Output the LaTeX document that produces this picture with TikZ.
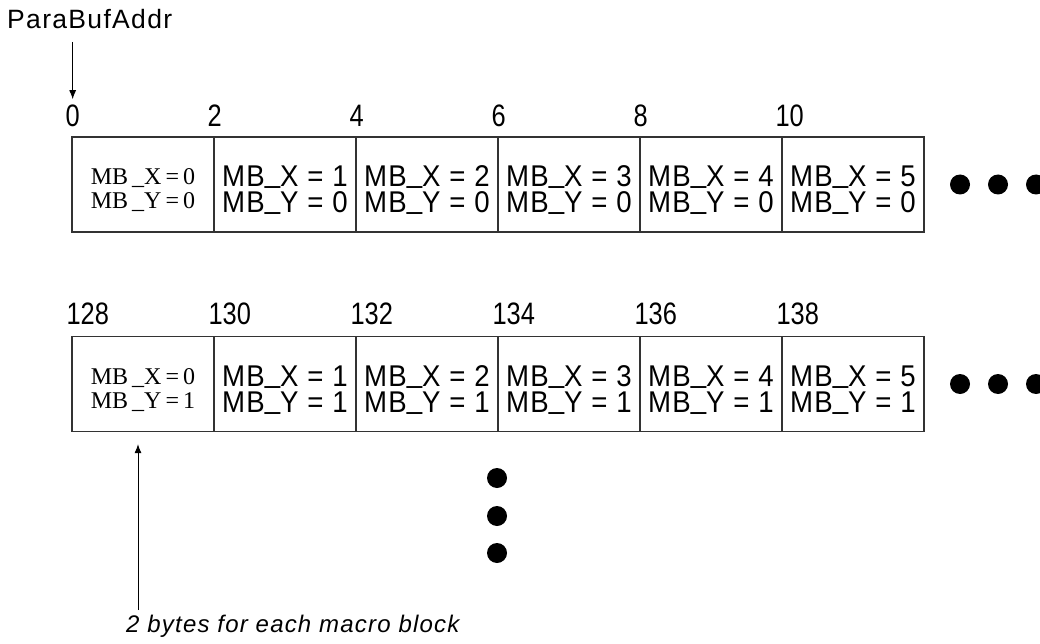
\documentclass[tikz,border=0pt]{standalone}
\usepackage{fontspec}
\usepackage{tikz}
\usetikzlibrary{arrows.meta}
\setmainfont{Liberation Serif}
\newfontfamily\gulim[LetterSpace=5]{Liberation Sans}
\newfontfamily\gulimcell[LetterSpace=4, FakeStretch=0.92]{Liberation Sans}
\newfontfamily\gulimnum[FakeStretch=0.82]{Liberation Sans}
\definecolor{edge}{RGB}{51, 51, 51}
\newcommand*{\cw}{142}
\newcommand*{\mbus}{\raisebox{0.14em}{\_}}

\begin{document}
\begin{tikzpicture}[
   x=1pt, y=-1pt,
   cell/.style={rectangle, draw=edge, line width=1.2, inner sep=0, align=center,
                minimum width=\cw, minimum height=95, text height=63pt, text depth=6pt,
                font=\gulimcell\fontsize{30}{26}\selectfont},
   firstcell/.style={cell, text height=55pt, font=\rmfamily\fontsize{24}{24}\selectfont},
   addrnum/.style={anchor=west, inner sep=0, font=\gulimnum\fontsize{31}{31}\selectfont},
   bigdot/.style={circle, fill=black, inner sep=0, minimum size=20},
   pointer/.style={-{Latex[length=9pt, width=7pt]}, line width=1}
  ]
  \useasboundingbox (0, 0) rectangle (1040, 644);

  % Row heights
  \pgfmathsetmacro{\ra}{184.5}
  \pgfmathsetmacro{\rb}{384}

  % First row (MB_Y = 0)
  \node (c00) at (143, \ra) [firstcell] {MB\,\_X\,=\,0\\MB\,\_Y\,=\,0};
  \foreach \i in {1,...,5} {
    \pgfmathsetmacro{\cx}{143 + \i * \cw}
    \node (c0\i) at (\cx, \ra) [cell] {MB\mbus X = \i\\MB\mbus Y = 0};
  }

  % Second row (MB_Y = 1)
  \node (c10) at (143, \rb) [firstcell] {MB\,\_X\,=\,0\\MB\,\_Y\,=\,1};
  \foreach \i in {1,...,5} {
    \pgfmathsetmacro{\cx}{143 + \i * \cw}
    \node (c1\i) at (\cx, \rb) [cell] {MB\mbus X = \i\\MB\mbus Y = 1};
  }

  % Byte offsets
  \foreach \i in {0,...,5} {
    \pgfmathtruncatemacro{\na}{2 * \i}
    \pgfmathtruncatemacro{\nb}{128 + 2 * \i}
    \node (n0\i) at ([shift={(-6, -21)}]c0\i.north west) [addrnum] {\na};
    \node (n1\i) at ([shift={(-5, -22)}]c1\i.north west) [addrnum] {\nb};
  }

  % Base address
  \node (addr) at (7, 19) [anchor=west, inner sep=0, font=\gulim\fontsize{26.5}{26}\selectfont] {ParaBufAddr};
  \draw[pointer, shorten <=13pt, shorten >=5pt] (n00.north |- addr.south) -- (n00.north);

  % Continuation dots
  \foreach \x [count=\k] in {960, 998, 1036} {
    \node (da\k) at (\x, \ra) [bigdot] {};
    \node (db\k) at (\x, \rb) [bigdot] {};
  }
  \foreach \y [count=\k] in {478, 516, 553} {
    \node (dv\k) at (497, \y) [bigdot] {};
  }

  % Note
  \node (note) at (126, 632) [anchor=base west, inner sep=0,
        font=\gulim\itshape\fontsize{24}{24}\selectfont] {2 bytes for each macro block};
  \coordinate (tail) at (138, 610);
  \draw[pointer, shorten >=12pt] (tail) -- (tail |- c10.south);

\end{tikzpicture}
\end{document}
